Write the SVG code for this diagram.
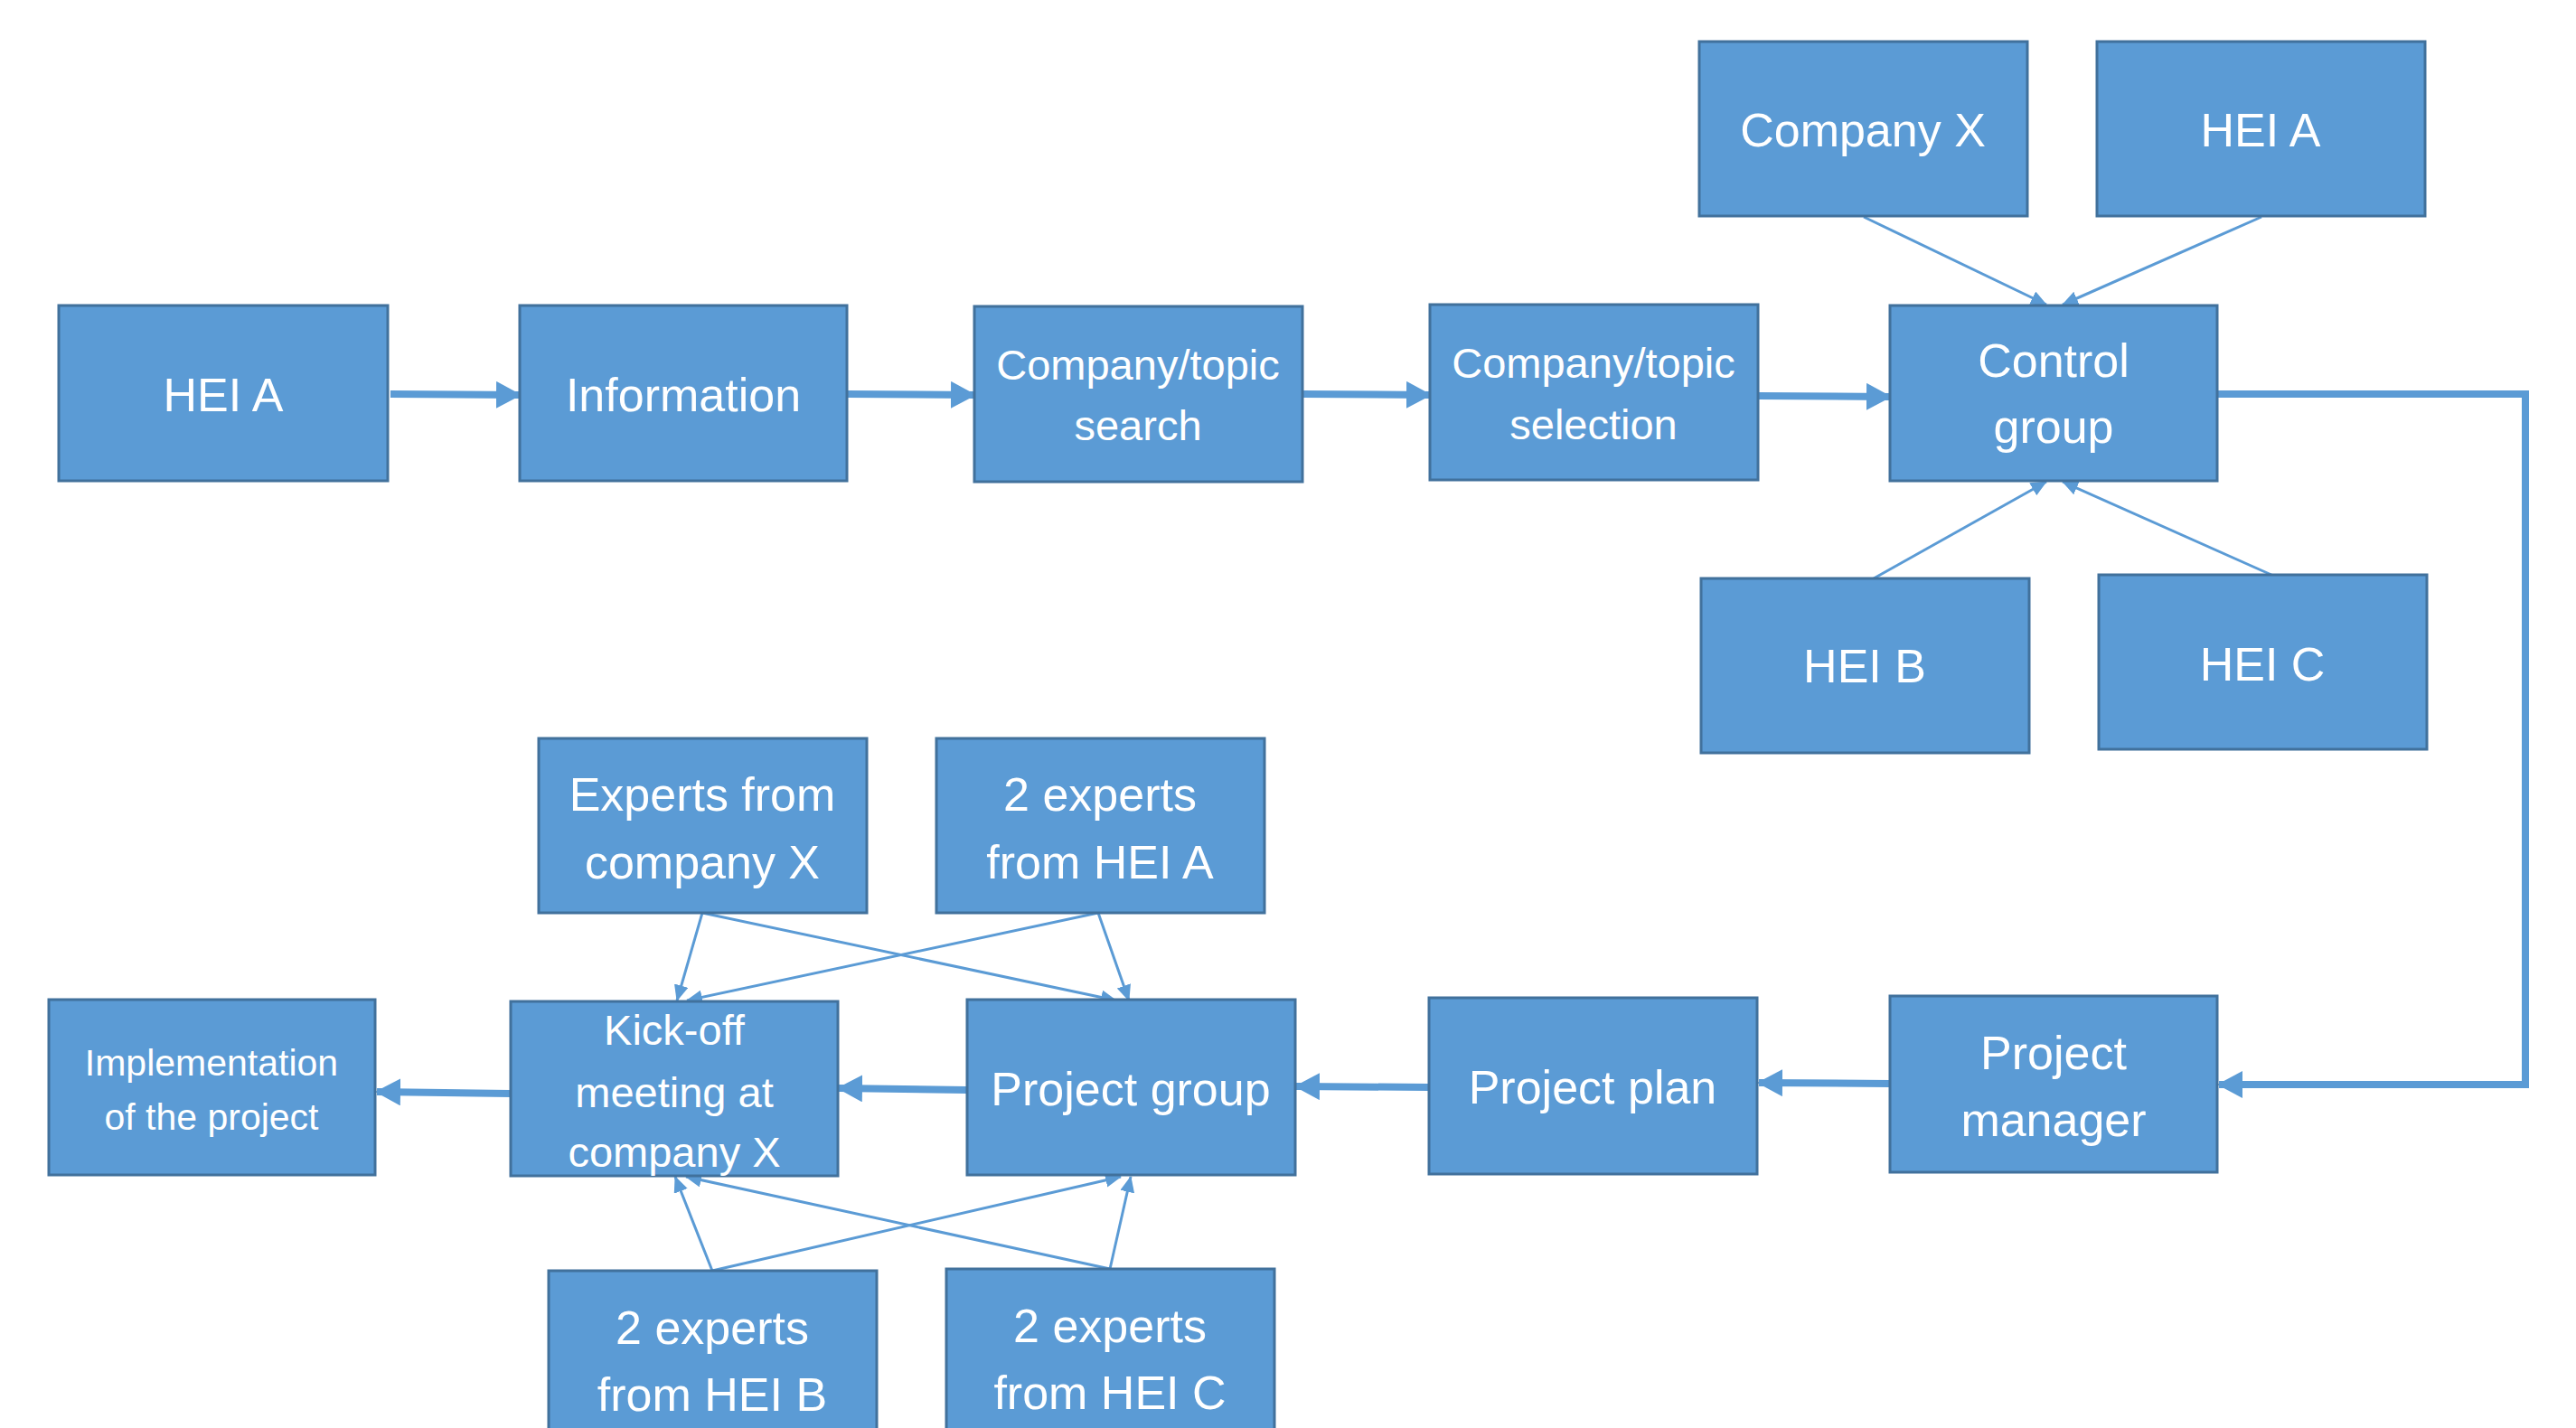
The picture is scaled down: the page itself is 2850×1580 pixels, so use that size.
<svg xmlns="http://www.w3.org/2000/svg" width="2850" height="1580" viewBox="0 0 2850 1580">
<style>
.box{fill:#5B9BD5;stroke:#41719C;stroke-width:3}
.t{font-family:"Liberation Sans",Arial,sans-serif;fill:#FFFFFF;text-anchor:middle}
.big{font-size:52px}
.mid{font-size:47px}
.sm{font-size:41px}
.thick{fill:none;stroke:#5B9BD5;stroke-width:8}
.thin{fill:none;stroke:#5B9BD5;stroke-width:3}
</style>
<defs>
<marker id="ah" markerUnits="userSpaceOnUse" markerWidth="28" markerHeight="30" refX="26" refY="15" orient="auto">
<path d="M0,0 L28,15 L0,30 Z" fill="#5B9BD5"/>
</marker>
<marker id="as" markerUnits="userSpaceOnUse" markerWidth="18" markerHeight="16" refX="17" refY="8" orient="auto">
<path d="M0,0 L18,8 L0,16 Z" fill="#5B9BD5"/>
</marker>
</defs>
<rect width="2850" height="1580" fill="#FFFFFF"/>
<g id="connectors">
<line class="thick" x1="432" y1="436" x2="575" y2="437" marker-end="url(#ah)"/>
<line class="thick" x1="937" y1="436" x2="1078" y2="437" marker-end="url(#ah)"/>
<line class="thick" x1="1441" y1="436" x2="1582" y2="437" marker-end="url(#ah)"/>
<line class="thick" x1="1945" y1="438" x2="2091" y2="439" marker-end="url(#ah)"/>
<line class="thin" x1="2062" y1="240" x2="2264" y2="337" marker-end="url(#as)"/>
<line class="thin" x1="2502" y1="240" x2="2282" y2="337" marker-end="url(#as)"/>
<line class="thin" x1="2073" y1="640" x2="2264" y2="533" marker-end="url(#as)"/>
<line class="thin" x1="2513" y1="636" x2="2282" y2="533" marker-end="url(#as)"/>
<polyline class="thick" points="2453,436 2794,436 2794,1200 2455,1200" marker-end="url(#ah)"/>
<line class="thick" x1="2091" y1="1199" x2="1946" y2="1198" marker-end="url(#ah)"/>
<line class="thick" x1="1581" y1="1203" x2="1434" y2="1202" marker-end="url(#ah)"/>
<line class="thick" x1="1070" y1="1206" x2="928" y2="1204" marker-end="url(#ah)"/>
<line class="thick" x1="565" y1="1210" x2="417" y2="1208" marker-end="url(#ah)"/>
<line class="thin" x1="777" y1="1010" x2="749" y2="1107" marker-end="url(#as)"/>
<line class="thin" x1="777" y1="1010" x2="1235" y2="1107" marker-end="url(#as)"/>
<line class="thin" x1="1215" y1="1010" x2="760" y2="1107" marker-end="url(#as)"/>
<line class="thin" x1="1215" y1="1010" x2="1249" y2="1107" marker-end="url(#as)"/>
<line class="thin" x1="788" y1="1406" x2="747" y2="1302" marker-end="url(#as)"/>
<line class="thin" x1="788" y1="1406" x2="1240" y2="1302" marker-end="url(#as)"/>
<line class="thin" x1="1228" y1="1404" x2="759" y2="1302" marker-end="url(#as)"/>
<line class="thin" x1="1228" y1="1404" x2="1251" y2="1302" marker-end="url(#as)"/>
</g>
<g id="hei-a-start"><rect class="box" x="65" y="338" width="364" height="194"/><text class="t big" x="247" y="455">HEI A</text></g>
<g id="information"><rect class="box" x="575" y="338" width="362" height="194"/><text class="t big" x="756" y="455">Information</text></g>
<g id="search"><rect class="box" x="1078" y="339" width="363" height="194"/><text class="t mid" x="1259" y="420">Company/topic</text><text class="t mid" x="1259" y="487">search</text></g>
<g id="selection"><rect class="box" x="1582" y="337" width="363" height="194"/><text class="t mid" x="1763" y="418">Company/topic</text><text class="t mid" x="1763" y="486">selection</text></g>
<g id="control-group"><rect class="box" x="2091" y="338" width="362" height="194"/><text class="t big" x="2272" y="417">Control</text><text class="t big" x="2272" y="490">group</text></g>
<g id="company-x"><rect class="box" x="1880" y="46" width="363" height="193"/><text class="t big" x="2061" y="162">Company X</text></g>
<g id="hei-a-top"><rect class="box" x="2320" y="46" width="363" height="193"/><text class="t big" x="2501" y="162">HEI A</text></g>
<g id="hei-b"><rect class="box" x="1882" y="640" width="363" height="193"/><text class="t big" x="2063" y="755">HEI B</text></g>
<g id="hei-c"><rect class="box" x="2322" y="636" width="363" height="193"/><text class="t big" x="2503" y="753">HEI C</text></g>
<g id="project-manager"><rect class="box" x="2091" y="1102" width="362" height="195"/><text class="t big" x="2272" y="1183">Project</text><text class="t big" x="2272" y="1257">manager</text></g>
<g id="project-plan"><rect class="box" x="1581" y="1104" width="363" height="195"/><text class="t big" x="1762" y="1221">Project plan</text></g>
<g id="project-group"><rect class="box" x="1070" y="1106" width="363" height="194"/><text class="t big" x="1251" y="1223">Project group</text></g>
<g id="kick-off"><rect class="box" x="565" y="1108" width="362" height="193"/><text class="t mid" x="746" y="1156">Kick-off</text><text class="t mid" x="746" y="1225">meeting at</text><text class="t mid" x="746" y="1291">company X</text></g>
<g id="implementation"><rect class="box" x="54" y="1106" width="361" height="194"/><text class="t sm" x="234" y="1190">Implementation</text><text class="t sm" x="234" y="1250">of the project</text></g>
<g id="experts-company-x"><rect class="box" x="596" y="817" width="363" height="193"/><text class="t big" x="777" y="897">Experts from</text><text class="t big" x="777" y="972">company X</text></g>
<g id="experts-hei-a"><rect class="box" x="1036" y="817" width="363" height="193"/><text class="t big" x="1217" y="897">2 experts</text><text class="t big" x="1217" y="972">from HEI A</text></g>
<g id="experts-hei-b"><rect class="box" x="607" y="1406" width="363" height="194"/><text class="t big" x="788" y="1487">2 experts</text><text class="t big" x="788" y="1561">from HEI B</text></g>
<g id="experts-hei-c"><rect class="box" x="1047" y="1404" width="363" height="196"/><text class="t big" x="1228" y="1485">2 experts</text><text class="t big" x="1228" y="1559">from HEI C</text></g>
</svg>
